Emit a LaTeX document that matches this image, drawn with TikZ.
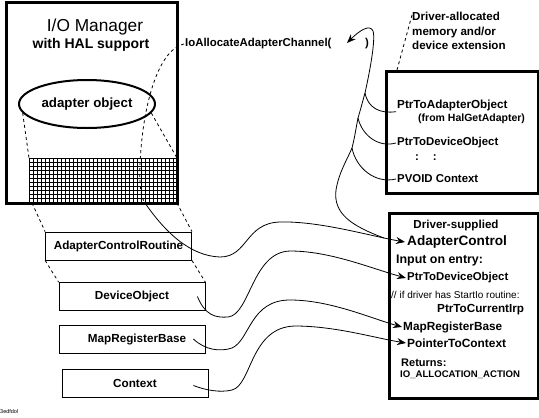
\documentclass[tikz,border=0pt]{standalone}
\usepackage{fontspec}
\setmainfont{Liberation Sans}
\usetikzlibrary{shapes.geometric,arrows.meta}

\begin{document}
\begin{tikzpicture}[x=1pt,y=-1pt]
\tikzstyle{lien}=[->,>={Stealth[length=9pt,width=7pt,inset=3pt]},line width=0.8pt]
\tikzstyle{trait}=[line width=0.8pt]
\tikzstyle{pointille}=[line width=0.8pt,dash pattern=on 3pt off 3pt]
\tikzset{cadre/.style={draw,line width=2.5pt,anchor=north west,inner sep=0pt},
champ/.style={draw,line width=0.8pt,minimum width=146pt,minimum height=28pt,inner sep=0pt,
font=\bfseries\fontsize{11.7}{13}\selectfont},
texte/.style={anchor=west,inner sep=1pt,font=\bfseries\fontsize{#1}{#1}\selectfont},
texte/.default={11.4}}
\useasboundingbox (0,0) rectangle (539,418);

% I/O manager side
\node[draw,line width=1pt,anchor=north west,minimum width=147pt,minimum height=44pt,inner sep=0pt] (wcb) at (29,158){};
\foreach \gx in {33,37,...,173} \draw[line width=1pt] (\gx,158) -- (\gx,202);
\foreach \gy in {162,166,...,198} \draw[line width=1pt] (29,\gy) -- (176,\gy);
\node[cadre,minimum width=171pt,minimum height=201pt] (iom) at (5,1){};
\node[font=\fontsize{17.3}{18}\selectfont] (titre) at (95,27){I/O Manager};
\node[font=\bfseries\fontsize{14}{15}\selectfont] (titre2) at (91,45){with HAL support};
\node[ellipse,draw,line width=2pt,minimum width=136pt,minimum height=48pt,inner sep=0pt,
font=\bfseries\fontsize{13.3}{14}\selectfont] (adobj) at (87,104){adapter object};

\node[champ] (acr) at (118.5,246){AdapterControlRoutine};
\node[champ] (devobj) at (132,296.5){DeviceObject};
\node[champ] (mapreg) at (132,339){\hspace{10pt}MapRegisterBase};
\node[champ] (ctx) at (135,383.5){Context};

\draw[pointille] (adobj.188) -- (wcb.north west);
\draw[pointille] (adobj.-8) -- (wcb.north east);
\draw[pointille] ([xshift=3pt]wcb.south west) -- (acr.north west);
\draw[pointille] (wcb.south east) -- (acr.north east);
\draw[pointille] (acr.south west) -- (devobj.north west);
\draw[pointille] (acr.south east) -- (devobj.north east);

% the call
\node[texte] (appel) at (184,44){IoAllocateAdapterChannel(};
\node[texte] (parf) at (364,44){)};
\coordinate (argslot) at (347,43);

% driver memory
\node[anchor=north west,inner sep=0pt,align=left,
font=\bfseries\fontsize{11.6}{14.5}\selectfont] (memlbl) at (412,12){Driver-allocated\\memory and/or\\device extension};
\node[cadre,minimum width=152pt,minimum height=122pt] (mem) at (385,70){};
\draw[pointille] ([xshift=12pt]mem.north west) -- ([yshift=-3pt]memlbl.north west);
\node[texte=11.7] (ptrAd) at (396,105){PtrToAdapterObject};
\node[texte=10.5] (halga) at (417,119){(from HalGetAdapter)};
\node[texte] (ptrDev) at (396,143){PtrToDeviceObject};
\node[texte] (points) at (414,158){:\hspace{14pt}:};
\node[texte] (pvoid) at (396,179){PVOID Context};

% driver routine
\node[cadre,minimum width=149pt,minimum height=185pt] (acbox) at (388,212){};
\node[texte=11.6,anchor=center] (acHaut) at (456,225){Driver-supplied};
\node[texte=13.6] (acTitre) at (406,242){AdapterControl};
\node[texte=12.4] (acIn) at (395,261){Input on entry:};
\node[texte] (acDev) at (406,278){PtrToDeviceObject};
\node[anchor=west,inner sep=1pt,font=\fontsize{10}{11}\selectfont] (acNote) at (390,295){// if driver has StartIo routine:};
\node[texte=11.7] (acIrp) at (436,310){PtrToCurrentIrp};
\node[texte=11.8] (acMap) at (402,327){MapRegisterBase};
\node[texte=11.9] (acCtx) at (406,343){PointerToContext};
\node[texte=11] (acRet) at (400,363){Returns:};
\node[texte=9.6] (acType) at (399,375){IO\_ALLOCATION\_ACTION};

\node[anchor=west,inner sep=0pt,font=\fontsize{5.5}{6}\selectfont] (code) at (0,412){3edfdol};

% joints
\coordinate (j1) at (365,93);
\coordinate (j2) at (358,118);
\coordinate (j3) at (352,148);
\coordinate (retour) at (384,238);
\coordinate (sortie) at (145,203);

\draw[pointille] (appel.west) .. controls (165,48) and (150,80) .. (143,130)
  .. controls (138,170) and (139,195) .. (sortie);
\draw[lien] (sortie) .. controls (165,232) and (190,256) .. (220,257)
  .. controls (248,257) and (245,223) .. (280,222)
  .. controls (320,221) and (370,236) .. ([xshift=-1pt]acTitre.west);
\draw[lien] (retour) .. controls (352,226) and (333,214) .. (336,190)
  .. controls (339,172) and (347,160) .. (j3)
  .. controls (355,136) and (356,128) .. (j2)
  .. controls (361,108) and (363,100) .. (j1)
  .. controls (369,75) and (376,40) .. (373,31)
  .. controls (370,24) and (360,30) .. (argslot);
\draw[trait] (ptrAd.south west) .. controls (380,114) and (368,108) .. (j1);
\draw[trait] (ptrDev.west) .. controls (378,148) and (362,135) .. (j2);
\draw[trait] (pvoid.west) .. controls (375,184) and (356,168) .. (j3);

\draw[lien] ([xshift=-8pt]devobj.east) .. controls (205,315) and (215,318) .. (228,317)
  .. controls (250,315) and (252,252) .. (290,251)
  .. controls (330,251) and (370,268) .. (acDev.west);
\draw[lien] ([xshift=-12pt]mapreg.east) .. controls (205,350) and (220,352) .. (232,348)
  .. controls (250,340) and (250,300) .. (290,300)
  .. controls (330,300) and (370,318) .. (acMap.west);
\draw[lien] ([xshift=-15pt,yshift=-2pt]ctx.east) .. controls (205,390) and (220,393) .. (232,390)
  .. controls (252,385) and (250,327) .. (295,326)
  .. controls (335,326) and (375,338) .. (acCtx.west);
\end{tikzpicture}
\end{document}
